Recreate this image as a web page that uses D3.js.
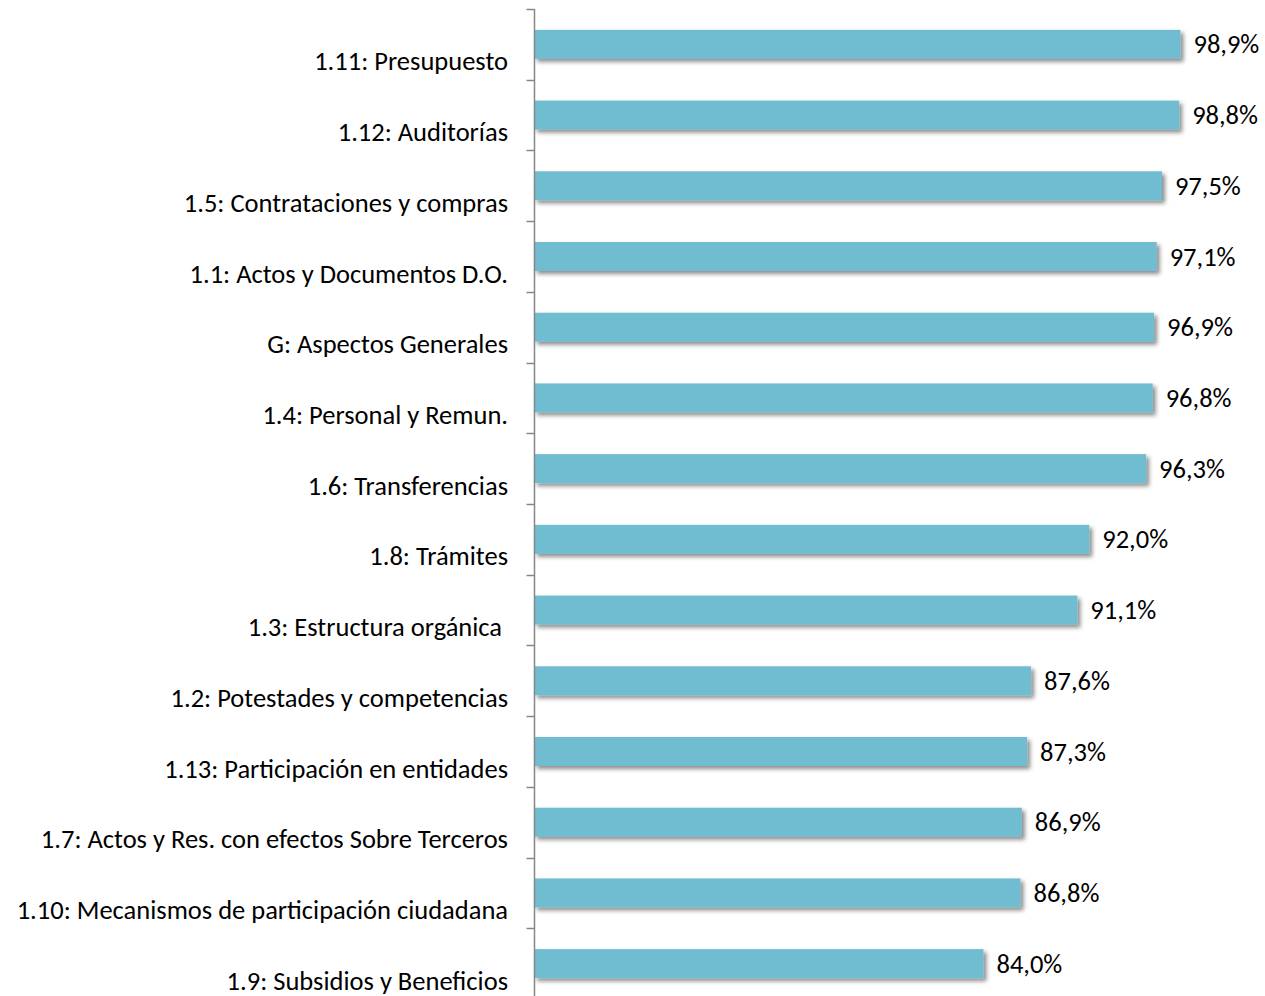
<!DOCTYPE html>
<html><head><meta charset="utf-8">
<script src="https://cdn.jsdelivr.net/npm/d3@7"></script>
<style>body{margin:0;background:#fff}svg{display:block}</style>
</head><body>
<svg id="c" width="1265" height="996"></svg>
<script>
const categories = ["1.11: Presupuesto","1.12: Auditorías","1.5: Contrataciones y compras","1.1: Actos y Documentos D.O.","G: Aspectos Generales","1.4: Personal y Remun.","1.6: Transferencias","1.8: Trámites","1.3: Estructura orgánica ","1.2: Potestades y competencias","1.13: Participación en entidades","1.7: Actos y Res. con efectos Sobre Terceros","1.10: Mecanismos de participación ciudadana","1.9: Subsidios y Beneficios"];
const values = [98.9,98.8,97.5,97.1,96.9,96.8,96.3,92.0,91.1,87.6,87.3,86.9,86.8,84.0];
const valueLabels = ["98,9%","98,8%","97,5%","97,1%","96,9%","96,8%","96,3%","92,0%","91,1%","87,6%","87,3%","86,9%","86,8%","84,0%"];
const xDomain = [50,100];

const svg = d3.select("#c");
const font = "Calibri, Carlito, Lato, 'Open Sans', sans-serif";
const axisX = 534.5;
const x = d3.scaleLinear().domain(xDomain).range([534, 1195]);
const y = d3.scaleBand().domain(categories).range([9, 999]).paddingInner(0.59).paddingOuter(0.295);

const defs = svg.append("defs");
const f = defs.append("filter").attr("id","sh").attr("x","-5%").attr("y","-50%").attr("width","115%").attr("height","250%");
f.append("feDropShadow").attr("dx",3).attr("dy",3).attr("stdDeviation",2).attr("flood-color","#000").attr("flood-opacity",0.45);

svg.append("g").selectAll("rect").data(values).join("rect")
  .attr("x", x(xDomain[0])).attr("y",(d,i)=>y(categories[i]))
  .attr("width", d=>x(d)-x(xDomain[0])).attr("height", y.bandwidth())
  .attr("fill","#6FBCD1").attr("filter","url(#sh)");

// axis
const step = y.step();
const g = svg.append("g");
g.append("line").attr("x1",axisX).attr("x2",axisX).attr("y1",y.range()[0]).attr("y2",y.range()[1]).attr("stroke","#868686").attr("stroke-width",1.5);
const bounds = categories.map(c=>y(c)-step*y.paddingInner()/2).concat([y(categories[categories.length-1])+y.bandwidth()+step*y.paddingInner()/2]);
g.selectAll("line.t").data(bounds).join("line").attr("class","t")
  .attr("x1",axisX-8).attr("x2",axisX).attr("y1",d=>Math.round(d)+0.5).attr("y2",d=>Math.round(d)+0.5)
  .attr("stroke","#868686").attr("stroke-width",1.5);

// category labels
svg.append("g").selectAll("text").data(categories).join("text")
  .attr("x",508).attr("y",d=>y(d)+y.bandwidth()/2+17)
  .attr("text-anchor","end").attr("dominant-baseline","central")
  .style("white-space","pre")
  .attr("font-family",font).attr("font-size",26.5).attr("fill","#000").text(d=>d);

// value labels
svg.append("g").selectAll("text").data(values).join("text")
  .attr("x",d=>x(d)+13).attr("y",(d,i)=>y(categories[i])+y.bandwidth()/2)
  .attr("dominant-baseline","central")
  .attr("font-family",font).attr("font-size",26.5).attr("fill","#000").text((d,i)=>valueLabels[i]);
</script>
</body></html>
